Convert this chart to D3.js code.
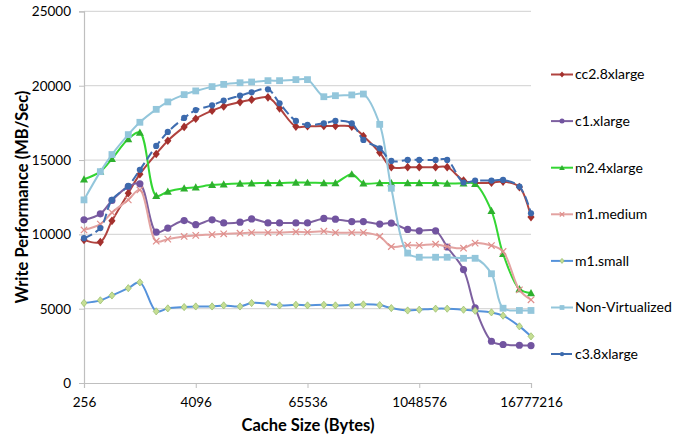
<!DOCTYPE html>
<html>
<head>
<meta charset="utf-8">
<script src="https://cdn.jsdelivr.net/npm/d3@7"></script>
<style>
  html, body { margin: 0; padding: 0; background: #fff; }
  svg { display: block; font-family: Lato, "Open Sans", sans-serif; }
</style>
</head>
<body>
<svg id="chart" width="693" height="436"></svg>
<script>
// ---- data ----
const cacheSizes = [256, 384, 512, 768, 1024, 1536, 2048, 3072, 4096, 6144, 8192, 12288, 16384, 24576, 32768, 49152, 65536, 98304, 131072, 196608, 262144, 393216, 524288, 786432, 1048576, 1572864, 2097152, 3145728, 4194304, 6291456, 8388608, 12582912, 16777216];
const xTickValues = [256, 4096, 65536, 1048576, 16777216];
const xTickLabels = ["256", "4096", "65536", "1048576", "16777216"];
const yTickValues = [0, 5000, 10000, 15000, 20000, 25000];
const seriesNames = ["cc2.8xlarge", "c1.xlarge", "m2.4xlarge", "m1.medium", "m1.small", "Non-Virtualized", "c3.8xlarge"];

const cc28xlarge = [9630, 9480, 10910, 12770, 14050, 15410, 16300, 17230, 17780, 18320, 18610, 18900, 19060, 19220, 18480, 17250, 17270, 17290, 17290, 17250, 16620, 15500, 14520, 14520, 14520, 14520, 14520, 13620, 13480, 13480, 13550, 13180, 11160];
const c1xlarge = [10980, 11380, 12280, 13220, 13400, 10150, 10420, 10930, 10650, 10980, 10770, 10820, 11040, 10770, 10770, 10770, 10770, 11070, 11020, 10860, 10860, 10690, 10750, 10330, 10240, 10240, 9150, 7630, 5060, 2810, 2590, 2540, 2520];
const m24xlarge = [13710, 14220, 15080, 16420, 16850, 12590, 12880, 13100, 13170, 13330, 13370, 13420, 13440, 13460, 13460, 13490, 13480, 13460, 13460, 14050, 13440, 13460, 13460, 13460, 13460, 13460, 13420, 13440, 13400, 11580, 8700, 6320, 6050];
const m1medium = [10300, 10690, 11470, 12320, 12990, 9540, 9680, 9860, 9930, 9990, 10040, 10080, 10120, 10120, 10120, 10170, 10150, 10210, 10120, 10120, 10120, 9860, 9180, 9270, 9260, 9340, 9180, 9070, 9410, 9250, 8850, 6270, 5600];
const m1small = [5380, 5560, 5890, 6380, 6770, 4820, 5020, 5110, 5150, 5150, 5220, 5150, 5380, 5330, 5220, 5260, 5220, 5260, 5220, 5240, 5290, 5240, 5040, 4880, 4930, 5000, 5000, 4930, 4860, 4750, 4530, 3810, 3140];
const nonVirtualized = [12320, 14220, 15370, 16710, 17540, 18410, 18910, 19400, 19650, 19940, 20090, 20200, 20250, 20340, 20340, 20410, 20410, 19260, 19330, 19380, 19440, 17400, 13100, 8740, 8460, 8460, 8460, 8390, 8390, 7350, 5030, 4880, 4880];
const c38xlarge = [9740, 10420, 12320, 13260, 14340, 15950, 16890, 17830, 18360, 18680, 19000, 19330, 19560, 19760, 18820, 17630, 17360, 17470, 17630, 17470, 16350, 15790, 14940, 15010, 15010, 15010, 15010, 13490, 13620, 13620, 13660, 13220, 11420];

const seriesValues = [cc28xlarge, c1xlarge, m24xlarge, m1medium, m1small, nonVirtualized, c38xlarge];

// ---- styles ----
const styles = [
  { line: "#B0433F", fill: "#A3302D", stroke: "none", marker: "diamond", size: 3.6, dash: null },
  { line: "#7D60A0", fill: "#7254A0", stroke: "none", marker: "circle", size: 3.6, dash: null },
  { line: "#33D633", fill: "#2EB02E", stroke: "none", marker: "triangle", size: 4, dash: null },
  { line: "#E3A3A1", fill: "none", stroke: "#E08F8C", marker: "x", size: 3.2, dash: null },
  { line: "#5592DB", fill: "#C6DE94", stroke: "#9CC070", marker: "diamond", size: 3, dash: null },
  { line: "#93C6DB", fill: "#93C6DB", stroke: "none", marker: "square", size: 3.4, dash: null },
  { line: "#3F6DB0", fill: "#3C6AAD", stroke: "none", marker: "circle", size: 3.1, dash: "9,4" }
];

const svg = d3.select("#chart");
const plotLeft = 84, plotRight = 531, plotTop = 11.4, plotBottom = 383;

const x = d3.scaleLog().base(2).domain([256, 16777216]).range([plotLeft, plotRight]);
const y = d3.scaleLinear().domain([0, 25000]).range([plotBottom, plotTop]);

// gridlines
svg.append("g").selectAll("line").data(yTickValues.filter(v => v > 0)).join("line")
  .attr("x1", plotLeft).attr("x2", plotRight)
  .attr("y1", d => y(d)).attr("y2", d => y(d))
  .attr("stroke", "#D9D9D9").attr("stroke-width", 1.2);

// y axis
const yAxis = d3.axisLeft(y).tickValues(yTickValues).tickSize(5).tickPadding(8).tickFormat(d3.format("d"));
const gy = svg.append("g").attr("transform", `translate(${plotLeft},0)`).call(yAxis);
gy.select(".domain").attr("stroke", "#BFBFBF").attr("stroke-width", 1.2);
gy.selectAll(".tick line").attr("stroke", "#BFBFBF");
gy.selectAll(".tick text").attr("font-size", 13.5).attr("fill", "#000").attr("font-family", "Lato, sans-serif");

// x axis
const xAxis = d3.axisBottom(x).tickValues(xTickValues).tickSize(5).tickPadding(9)
  .tickFormat((d, i) => xTickLabels[i]);
const gx = svg.append("g").attr("transform", `translate(0,${plotBottom})`).call(xAxis);
gx.select(".domain").attr("stroke", "#BFBFBF").attr("stroke-width", 1.2);
gx.selectAll(".tick line").attr("stroke", "#BFBFBF");
gx.selectAll(".tick text").attr("font-size", 13.5).attr("fill", "#000").attr("font-family", "Lato, sans-serif");

// titles
svg.append("text").attr("x", 308).attr("y", 431).attr("text-anchor", "middle")
  .attr("font-size", 16.5).attr("font-weight", "bold").text("Cache Size (Bytes)");
svg.append("text").attr("transform", "translate(28,197) rotate(-90)").attr("text-anchor", "middle")
  .attr("font-size", 16.5).attr("font-weight", "bold").text("Write Performance (MB/Sec)");

function drawMarker(g, type, cx, cy, s, st) {
  if (type === "circle") {
    g.append("circle").attr("cx", cx).attr("cy", cy).attr("r", s).attr("fill", st.fill).attr("stroke", st.stroke);
  } else if (type === "square") {
    g.append("rect").attr("x", cx - s).attr("y", cy - s).attr("width", 2 * s).attr("height", 2 * s).attr("fill", st.fill);
  } else if (type === "diamond") {
    g.append("path").attr("d", `M${cx},${cy - s * 1.2}L${cx + s},${cy}L${cx},${cy + s * 1.2}L${cx - s},${cy}Z`)
      .attr("fill", st.fill).attr("stroke", st.stroke).attr("stroke-width", 0.8);
  } else if (type === "triangle") {
    g.append("path").attr("d", `M${cx},${cy - s}L${cx + s},${cy + s * 0.8}L${cx - s},${cy + s * 0.8}Z`).attr("fill", st.fill);
  } else if (type === "x") {
    g.append("path").attr("d", `M${cx - s},${cy - s}L${cx + s},${cy + s}M${cx - s},${cy + s}L${cx + s},${cy - s}`)
      .attr("stroke", st.stroke).attr("stroke-width", 1.2).attr("fill", "none");
  }
}

const line = d3.line().x(d => x(d[0])).y(d => y(d[1])).curve(d3.curveCatmullRom.alpha(0.5));

seriesValues.forEach((vals, si) => {
  const st = styles[si];
  const pts = cacheSizes.map((c, i) => [c, vals[i]]);
  const g = svg.append("g");
  g.append("path").attr("d", line(pts)).attr("fill", "none").attr("stroke", st.line)
    .attr("stroke-width", 2).attr("stroke-dasharray", st.dash).attr("stroke-linejoin", "round");
  pts.forEach(p => drawMarker(g, st.marker, x(p[0]), y(p[1]), st.size, st));
});

// legend
const lg = svg.append("g");
seriesNames.forEach((name, i) => {
  const st = styles[i];
  const ly = 74.5 + i * 46.6;
  lg.append("line").attr("x1", 551).attr("x2", 573).attr("y1", ly).attr("y2", ly)
    .attr("stroke", st.line).attr("stroke-width", 2).attr("stroke-dasharray", st.dash ? "9,3" : null);
  drawMarker(lg, st.marker, 562, ly, st.size * 0.7, st);
  lg.append("text").attr("x", 575).attr("y", ly).attr("dy", "0.35em")
    .attr("font-size", 14).attr("fill", "#000").text(name);
});
</script>
</body>
</html>
